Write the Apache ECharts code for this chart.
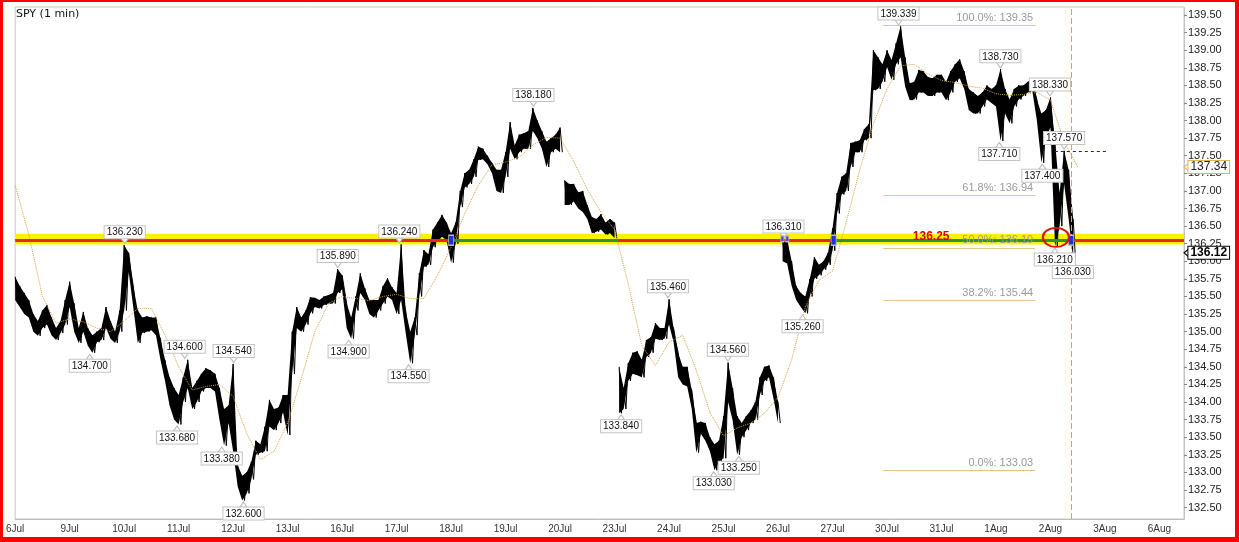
<!DOCTYPE html>
<html>
<head>
<meta charset="utf-8">
<title>SPY (1 min)</title>
<script src="https://cdn.jsdelivr.net/npm/echarts@6.0.0/dist/echarts.min.js"></script>
<style>
  html, body { margin: 0; padding: 0; background: #fff; }
  #frame {
    position: absolute; left: 0; top: 0; width: 1239px; height: 542px;
    box-sizing: border-box; border-style: solid; border-color: #ff0000;
    border-width: 2px 4px 5px 3px; background: #fff;
  }
  #chart { width: 100%; height: 100%; }
</style>
</head>
<body>
<div id="frame"><div id="chart"></div></div>
<script>
// trading days on the x axis, one unit per session
const dayLabels = ['6Jul', '9Jul', '10Jul', '11Jul', '12Jul', '13Jul', '16Jul', '17Jul', '18Jul', '19Jul', '20Jul',
  '23Jul', '24Jul', '25Jul', '26Jul', '27Jul', '30Jul', '31Jul', '1Aug', '2Aug', '3Aug', '6Aug'];

// 1 min bars, summarised as high / low per 1/12 session
const barStep = 1 / 12;
const hi = [
  135.78, 135.65, 135.55, 135.45, 135.25, 135.15, 135.30, 135.38, 135.20, 135.05, 135.15, 135.45, // 6Jul
  135.71, 135.40, 135.05, 135.28, 135.05, 134.95, 135.00, 135.05, 135.35, 135.15, 135.00, 135.30, // 9Jul
  136.23, 136.12, 135.65, 135.30, 135.20, 135.22, 135.20, 135.20, 134.90, 134.60, 134.35, 134.20, // 10Jul
  134.10, 134.35, 134.60, 134.20, 134.30, 134.40, 134.48, 134.45, 134.40, 134.20, 133.90, 133.95, // 11Jul
  134.54, 133.10, 132.95, 133.00, 133.15, 133.45, 133.40, 133.65, 134.03, 133.90, 133.92, 134.10, // 12Jul
  134.10, 135.00, 135.35, 135.20, 135.30, 135.49, 135.48, 135.45, 135.50, 135.52, 135.55, 135.89, // 13Jul
  135.80, 135.40, 135.20, 135.50, 135.83, 135.62, 135.45, 135.45, 135.45, 135.65, 135.76, 135.63, // 16Jul
  135.55, 136.24, 135.30, 135.00, 135.20, 135.83, 136.16, 136.10, 136.45, 136.55, 136.66, 136.55, // 17Jul
  136.40, 136.55, 137.00, 137.25, 137.30, 137.45, 137.63, 137.60, 137.50, 137.40, 137.30, 137.30, // 18Jul
  137.55, 137.98, 137.65, 137.80, 137.82, 137.85, 138.18, 138.00, 137.85, 137.70, 137.75, 137.80, // 19Jul
  137.90, 137.15, 137.10, 137.10, 136.98, 137.00, 136.80, 136.63, 136.60, 136.67, 136.55, 136.60, // 20Jul
  136.55, 134.50, 134.20, 134.55, 134.70, 134.72, 134.60, 134.88, 134.92, 135.12, 135.05, 135.05, // 23Jul
  135.46, 135.05, 134.70, 134.50, 134.50, 134.17, 133.70, 133.72, 133.70, 133.50, 133.40, 133.45, // 24Jul
  133.80, 134.56, 134.20, 133.80, 133.70, 133.80, 133.88, 134.00, 134.35, 134.50, 134.52, 134.35, // 25Jul
  134.00, 136.31, 136.31, 136.00, 135.65, 135.55, 135.50, 135.75, 136.06, 135.95, 136.00, 136.12, // 26Jul
  136.47, 136.97, 137.20, 137.25, 137.68, 137.70, 137.72, 137.88, 137.95, 139.00, 138.90, 138.80, // 27Jul
  139.00, 138.86, 139.10, 139.339, 138.90, 138.53, 138.55, 138.72, 138.70, 138.62, 138.60, 138.65, // 30Jul
  138.65, 138.55, 138.70, 138.80, 138.87, 138.70, 138.45, 138.40, 138.35, 138.40, 138.50, 138.45, // 31Jul
  138.50, 138.73, 138.45, 138.30, 138.45, 138.50, 138.50, 138.55, 138.60, 138.30, 138.10, 138.15, // 1Aug
  138.33, 137.70, 136.97, 137.57, 137.30, 136.60                                                  // 2Aug
];
const lo = [
  135.45, 135.35, 135.25, 135.20, 135.00, 134.94, 135.05, 135.10, 134.95, 134.88, 134.98, 135.10,
  135.35, 135.00, 134.84, 135.00, 134.80, 134.70, 134.85, 134.88, 135.05, 134.90, 134.84, 135.00,
  135.30, 135.85, 135.35, 134.84, 134.98, 135.00, 135.02, 134.95, 134.60, 134.30, 133.95, 133.75,
  133.68, 134.00, 134.20, 133.90, 134.00, 134.15, 134.20, 134.20, 134.15, 133.74, 133.38, 133.70,
  133.30, 132.80, 132.60, 132.70, 132.90, 133.25, 133.28, 133.30, 133.65, 133.60, 133.70, 133.85,
  133.53, 134.40, 135.05, 135.00, 135.10, 135.26, 135.35, 135.33, 135.38, 135.40, 135.40, 135.55,
  135.60, 135.05, 134.90, 135.30, 135.55, 135.45, 135.25, 135.20, 135.30, 135.40, 135.50, 135.45,
  135.25, 135.45, 134.98, 134.55, 134.95, 135.50, 135.92, 135.95, 136.20, 136.30, 136.35, 136.30,
  135.98, 136.25, 136.77, 137.05, 137.10, 137.20, 137.44, 137.45, 137.38, 137.25, 137.00, 136.97,
  137.20, 137.60, 137.45, 137.55, 137.60, 137.60, 137.85, 137.75, 137.60, 137.34, 137.55, 137.60,
  137.55, 136.80, 136.80, 136.85, 136.75, 136.70, 136.60, 136.40, 136.42, 136.45, 136.38, 136.40,
  136.33, 133.84, 133.90, 134.30, 134.40, 134.38, 134.35, 134.64, 134.70, 134.90, 134.88, 134.90,
  135.10, 134.85, 134.35, 134.25, 134.22, 133.90, 133.28, 133.55, 133.45, 133.30, 133.03, 133.15,
  133.20, 134.00, 133.74, 133.25, 133.50, 133.60, 133.70, 133.75, 134.10, 134.30, 134.35, 134.05,
  133.70, 136.00, 135.97, 135.65, 135.45, 135.35, 135.26, 135.50, 135.75, 135.80, 135.88, 135.95,
  136.15, 136.68, 136.95, 137.00, 137.34, 137.55, 137.55, 137.72, 137.75, 138.43, 138.45, 138.55,
  138.76, 138.58, 138.80, 138.90, 138.48, 138.29, 138.30, 138.40, 138.40, 138.35, 138.35, 138.40,
  138.40, 138.29, 138.40, 138.55, 138.60, 138.45, 138.15, 138.10, 138.10, 138.20, 138.30, 138.25,
  138.20, 137.71, 138.10, 137.96, 138.20, 138.30, 138.35, 138.40, 138.42, 138.00, 137.40, 137.77,
  137.90, 136.21, 136.50, 137.10, 136.60, 136.03
];
// last bar index before an opening gap
const sessionBreaks = [120, 132, 168];

// moving average, one value per quarter session
const maStep = 0.25;
const maValues = [
  137.08, 136.38, 135.50, 135.12, 135.18, 135.14, 135.05, 135.00, 135.15, 135.33,
  135.33, 134.95, 134.50, 134.17, 134.22, 134.25, 134.08, 133.55, 133.18, 133.30,
  133.70, 134.33, 135.00, 135.40, 135.50, 135.47, 135.44, 135.50, 135.53, 135.47,
  135.47, 135.80, 136.20, 136.68, 137.08, 137.37, 137.41, 137.48, 137.65, 137.76,
  137.75, 137.42, 137.02, 136.70, 136.45, 135.68, 134.80, 134.52, 134.85, 134.95,
  134.45, 133.85, 133.52, 133.63, 133.70, 133.84, 134.07, 134.60, 135.35, 135.73,
  135.86, 136.55, 137.30, 137.95, 138.45, 138.78, 138.80, 138.66, 138.57, 138.54,
  138.49, 138.46, 138.38, 138.36, 138.37, 138.40, 138.29, 137.70, 137.34
];

const yTicks = [132.50, 132.75, 133.00, 133.25, 133.50, 133.75, 134.00, 134.25, 134.50, 134.75,
  135.00, 135.25, 135.50, 135.75, 136.00, 136.25, 136.50, 136.75, 137.00, 137.25,
  137.50, 137.75, 138.00, 138.25, 138.50, 138.75, 139.00, 139.25, 139.50];

// fibonacci retracement drawn over the last sessions
const fibNames = ['100.0%', '61.8%', '50.0%', '38.2%', '0.0%'];
const fibLevels = [139.35, 136.94, 136.19, 135.44, 133.03];
const fibStart = 15.93;
const fibEnd = 18.72;

// swing high / low notes
const noteX = [2.01, 1.37, 3.11, 2.97, 4.01, 3.79, 4.19, 5.92, 6.12, 7.05, 7.22, 9.51, 11.12, 11.98,
  12.82, 13.08, 13.28, 14.10, 14.45, 16.21, 18.08, 18.06, 18.99, 18.85, 19.25, 19.08, 19.41];
const noteVal = [136.23, 134.70, 134.60, 133.68, 134.54, 133.38, 132.60, 135.89, 134.90, 136.24, 134.55,
  138.18, 133.84, 135.46, 133.03, 134.56, 133.25, 136.31, 135.26, 139.339, 138.73, 137.71, 138.33,
  137.40, 137.57, 136.21, 136.03];
const noteUp = [1, 0, 1, 0, 1, 0, 0, 1, 0, 1, 0, 1, 0, 1, 0, 1, 0, 1, 0, 1, 1, 0, 1, 0, 1, 0, 0];

// support level band
const levelValue = 136.30;
const levelText = '136.25';
const levelX = 16.81;
const bandLow = 136.24;
const bandHigh = 136.39;
const crossX = [8.0, 11.06, 15.02, 19.38];
const touchX = [14.08, 14.17];
const nowX = 19.38;
const stopLevel = 137.57;
const stopFrom = 19.08;
const stopTo = 20.05;
const circleX = 19.10;
const circleVal = 136.34;
const lastPrice = 136.12;
const lastMa = 137.34;

const xMin = 0;
const xMax = 21.45;
const yMin = 132.337;
const yMax = 139.614;

const FONT = 'Liberation Sans';
const RED = '#e8262a';
const GREEN = '#2f8f3a';

// continuous runs of bars between gaps
const segments = [];
let segStart = 0;
sessionBreaks.forEach((b) => { segments.push([segStart, b]); segStart = b + 1; });
segments.push([segStart, hi.length - 1]);

const maData = maValues.map((v, i) => [i * maStep, v]);

// band line colours: red below the level, green above
const levelEdges = [xMin].concat(crossX, [xMax]);
const levelLines = [];
for (let i = 0; i < levelEdges.length - 1; i++) {
  levelLines.push([
    { coord: [levelEdges[i], levelValue], lineStyle: { color: i % 2 === 0 ? RED : GREEN, width: 3, type: 'solid' } },
    { coord: [levelEdges[i + 1], levelValue] }
  ]);
}

const fibLines = fibLevels.map((v, i) => [
  {
    coord: [fibStart, v],
    label: { formatter: fibNames[i] + ': ' + v.toFixed(2) }
  },
  { coord: [fibEnd, v] }
]);

const notePoints = noteX.map((x, i) => {
  const up = noteUp[i] === 1;
  return {
    coord: [x, noteVal[i]],
    symbol: 'triangle',
    symbolSize: [7, 5],
    symbolRotate: up ? 180 : 0,
    symbolOffset: [0, up ? -4 : 4],
    label: {
      show: true,
      position: up ? 'top' : 'bottom',
      distance: 0,
      formatter: noteVal[i].toFixed(3)
    }
  };
});

const blueMarks = [crossX[0], crossX[2], crossX[3]].map((x) => ({
  coord: [x, levelValue], symbol: 'rect', symbolSize: [5, 10],
  itemStyle: { color: '#2030e0' }, label: { show: false }
})).concat(touchX.map((x) => ({
  coord: [x, levelValue + 0.02], symbol: 'rect', symbolSize: [3, 6],
  itemStyle: { color: '#5a3ae0' }, label: { show: false }
})));

const chart = echarts.init(document.getElementById('chart'));

chart.setOption({
  animation: false,
  backgroundColor: '#fff',
  title: {
    text: 'SPY (1 min)',
    left: 13, top: 7, padding: 0,
    textStyle: { fontFamily: 'DejaVu Sans', fontSize: 11, fontWeight: 'normal', color: '#111' }
  },
  grid: {
    left: 10, top: 5, right: 51, bottom: 18,
    show: true, borderColor: '#c8c8c8', borderWidth: 1, backgroundColor: 'transparent'
  },
  xAxis: {
    type: 'value', min: xMin, max: xMax,
    axisLine: { show: true, onZero: false, lineStyle: { color: '#bdbdbd' } },
    axisTick: { show: false },
    splitLine: { show: false },
    axisLabel: {
      customValues: dayLabels.map((d, i) => i),
      formatter: (v) => dayLabels[Math.round(v)],
      color: '#333', fontFamily: FONT, fontSize: 10, margin: 5
    }
  },
  yAxis: {
    type: 'value', position: 'right', min: yMin, max: yMax,
    axisLine: { show: true, onZero: false, lineStyle: { color: '#bdbdbd', type: [1, 1] } },
    axisTick: { show: true, length: 3, customValues: yTicks, lineStyle: { color: '#888' } },
    splitLine: { show: false },
    axisLabel: {
      customValues: yTicks,
      formatter: (v) => v.toFixed(2),
      color: '#222', fontFamily: FONT, fontSize: 11, margin: 4
    }
  },
  series: [
    {
      // yellow support band with its coloured level line
      name: 'level', type: 'line', z: 1,
      data: [[xMin, levelValue], [xMax, levelValue]],
      symbol: 'none', lineStyle: { opacity: 0 }, silent: true,
      markArea: {
        silent: true,
        itemStyle: { color: '#f8f400' },
        data: [[{ coord: [xMin, bandHigh] }, { coord: [xMax, bandLow] }]]
      },
      markLine: {
        silent: true, symbol: ['none', 'none'], label: { show: false },
        data: levelLines.concat([
          [{ coord: [stopFrom, stopLevel], lineStyle: { color: '#1a1aa8', width: 1, type: [3, 3] } }, { coord: [stopTo, stopLevel] }],
          { xAxis: nowX, lineStyle: { color: '#e0b000', width: 1, type: [6, 3] } }
        ])
      }
    },
    {
      name: 'fib', type: 'line', z: 2,
      data: [[fibStart, fibLevels[0]]],
      symbol: 'none', lineStyle: { opacity: 0 }, silent: true,
      markLine: {
        silent: true, symbol: ['none', 'none'],
        lineStyle: { color: '#e6c28e', width: 1, type: 'solid' },
        label: { show: true, position: 'insideEndTop', distance: 2, color: '#9a9a9a', fontFamily: FONT, fontSize: 11 },
        data: fibLines
      }
    },
    {
      name: 'SPY', type: 'custom', z: 3,
      data: segments.map((s) => [s[0] * barStep, hi[s[0]]]),
      silent: true,
      renderItem: (params, api) => {
        const seg = segments[params.dataIndex];
        const top = [];
        const bottom = [];
        const zig = [];
        for (let k = seg[0]; k <= seg[1]; k++) {
          const x = k * barStep;
          top.push(api.coord([x, hi[k]]));
          bottom.unshift(api.coord([x, lo[k]]));
          zig.push(api.coord([x, hi[k]]), api.coord([x + barStep / 2, lo[k]]));
        }
        return {
          type: 'group',
          children: [
            { type: 'polygon', shape: { points: top.concat(bottom) }, style: { fill: '#000' } },
            { type: 'polyline', shape: { points: zig }, style: { stroke: '#000', lineWidth: 1, fill: null } }
          ]
        };
      }
    },
    {
      name: 'MA', type: 'line', z: 4,
      data: maData, symbol: 'none', smooth: false, silent: true,
      lineStyle: { color: '#d6a040', width: 1, type: 'dotted' }
    },
    {
      name: 'notes', type: 'line', z: 5,
      data: [[xMin, levelValue]], symbol: 'none', lineStyle: { opacity: 0 }, silent: true,
      markPoint: {
        silent: true,
        itemStyle: { color: '#fff', borderColor: '#bdbdbd', borderWidth: 1 },
        label: {
          color: '#111', fontFamily: FONT, fontSize: 10, lineHeight: 11,
          backgroundColor: '#fff', borderColor: '#c4c4c4', borderWidth: 1, padding: [1, 2, 0, 2]
        },
        data: notePoints.concat(blueMarks, [
          {
            coord: [circleX, circleVal], symbol: 'circle', symbolSize: [26, 19],
            itemStyle: { color: 'rgba(0,0,0,0)', borderColor: '#e01010', borderWidth: 2 },
            label: { show: false }
          },
          {
            coord: [levelX, levelValue], symbol: 'rect', symbolSize: 1,
            itemStyle: { color: 'rgba(0,0,0,0)', borderWidth: 0 },
            label: {
              show: true, position: 'inside', offset: [0, -3], formatter: levelText,
              color: '#e00000', fontWeight: 'bold', fontSize: 12, fontFamily: FONT,
              backgroundColor: 'transparent', borderWidth: 0, padding: 0
            }
          },
          {
            coord: [xMax, lastMa], symbol: 'triangle', symbolRotate: 90, symbolSize: [10, 6], symbolOffset: [3, 0],
            itemStyle: { color: '#fff', borderColor: '#e0b25a', borderWidth: 1 },
            label: {
              show: true, position: 'right', distance: -2, formatter: lastMa.toFixed(2),
              color: '#222', fontSize: 12, borderColor: '#e0b25a', padding: [1, 2, 0, 2]
            }
          },
          {
            coord: [xMax, lastPrice], symbol: 'triangle', symbolRotate: 90, symbolSize: [10, 6], symbolOffset: [3, 0],
            itemStyle: { color: '#fff', borderColor: '#000', borderWidth: 1 },
            label: {
              show: true, position: 'right', distance: -2, formatter: lastPrice.toFixed(2),
              color: '#000', fontSize: 12, fontWeight: 'bold', borderColor: '#000', padding: [1, 2, 0, 2]
            }
          }
        ])
      }
    }
  ]
});
</script>
</body>
</html>
